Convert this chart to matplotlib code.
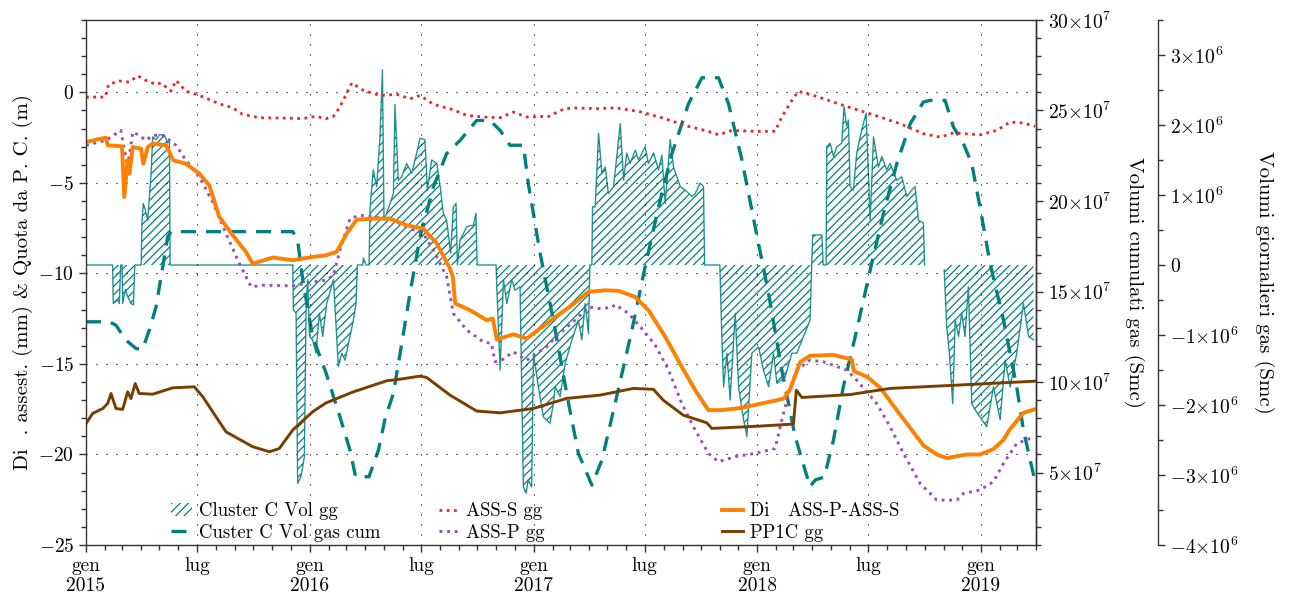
######### Subsidenza e volumi gas - Cluster C #########
import numpy as np
import pandas as pd
import matplotlib
matplotlib.use('Agg')
import matplotlib.pyplot as plt
import matplotlib.dates as mdates
from matplotlib.ticker import MultipleLocator, FuncFormatter

plt.rcParams['font.family'] = 'serif'
plt.rcParams['font.serif'] = ['cmr10', 'DejaVu Serif']
plt.rcParams['mathtext.fontset'] = 'cm'
plt.rcParams['axes.unicode_minus'] = False
plt.rcParams['hatch.linewidth'] = 0.9

# ---- data (time in decimal years) ----
# ASS-S gg (m)
ass_s_t = [2015.0, 2015.086, 2015.101, 2015.149, 2015.194, 2015.231, 2015.268, 2015.313, 2015.335,
           2015.38, 2015.402, 2015.447, 2015.507, 2015.596, 2015.656, 2015.70, 2015.775, 2015.894,
           2015.969, 2016.028, 2016.073, 2016.106, 2016.135, 2016.188, 2016.24, 2016.314, 2016.389,
           2016.448, 2016.493, 2016.553, 2016.642, 2016.702, 2016.776, 2016.851, 2016.91, 2016.97,
           2017.074, 2017.11, 2017.142, 2017.186, 2017.291, 2017.365, 2017.47, 2017.574, 2017.693,
           2017.768, 2017.827, 2017.887, 2017.991, 2018.08, 2018.11, 2018.155, 2018.184, 2018.266,
           2018.385, 2018.505, 2018.639, 2018.743, 2018.818, 2018.877, 2018.996, 2019.071, 2019.13,
           2019.19, 2019.242]
ass_s = [-0.26, -0.26, 0.44, 0.63, 0.57, 0.92, 0.66, 0.44, 0.52,
         0.07, 0.66, 0.07, -0.17, -0.63, -0.85, -1.21, -1.40, -1.42,
         -1.45, -1.32, -1.45, -1.32, -0.81, 0.52, 0.11, -0.17, -0.11,
         -0.35, -0.17, -0.66, -0.96, -1.27, -1.36, -1.40, -1.09, -1.36,
         -1.32, -1.05, -0.90, -0.86, -0.90, -0.85, -1.05, -1.40, -1.88,
         -2.10, -2.34, -2.10, -2.15, -2.15, -1.36, -0.44, 0.06, -0.22,
         -0.72, -1.18, -1.73, -2.28, -2.47, -2.24, -2.34, -2.10, -1.64,
         -1.69, -1.88]

# ASS-P gg (m)
ass_p_t = [2015.0, 2015.089, 2015.156, 2015.186, 2015.209, 2015.238, 2015.268, 2015.298, 2015.343,
           2015.402, 2015.447, 2015.507, 2015.566, 2015.626, 2015.686, 2015.738, 2015.79, 2015.924,
           2016.013, 2016.073, 2016.106, 2016.135, 2016.18, 2016.225, 2016.284, 2016.374, 2016.448,
           2016.508, 2016.553, 2016.612, 2016.642, 2016.702, 2016.776, 2016.813, 2016.828, 2016.858,
           2016.91, 2016.97, 2017.059, 2017.10, 2017.186, 2017.246, 2017.291, 2017.35, 2017.365,
           2017.425, 2017.484, 2017.544, 2017.604, 2017.663, 2017.723, 2017.782, 2017.827, 2017.902,
           2017.991, 2018.08, 2018.11, 2018.15, 2018.177, 2018.236, 2018.296, 2018.4, 2018.445,
           2018.534, 2018.594, 2018.654, 2018.728, 2018.803, 2018.892, 2018.922, 2018.996, 2019.056,
           2019.101, 2019.16, 2019.22]
ass_p = [-2.92, -2.65, -2.10, -4.12, -2.19, -2.37, -2.65, -2.37, -2.37,
         -2.92, -3.75, -4.67, -6.05, -7.80, -9.46, -10.74, -10.65, -10.69,
         -10.47, -10.38, -10.10, -8.72, -6.97, -6.79, -6.88, -7.06, -7.52,
         -7.80, -8.72, -10.19, -12.21, -13.13, -13.78, -13.87, -14.88, -14.79,
         -14.33, -14.79, -14.05, -13.50, -12.58, -11.85, -11.94, -11.88, -11.72,
         -12.21, -13.04, -13.96, -15.34, -17.18, -18.65, -19.94, -20.40, -20.12,
         -19.94, -19.67, -18.10, -16.20, -15.34, -14.79, -14.88, -15.34, -15.89,
         -17.18, -18.47, -19.94, -21.60, -22.52, -22.52, -22.15, -21.96, -21.50,
         -20.49, -19.39, -19.11]

# Diff ASS-P-ASS-S (mm)
diff_t = [2015.0, 2015.089, 2015.097, 2015.161, 2015.171, 2015.186, 2015.194, 2015.209, 2015.246,
          2015.256, 2015.276, 2015.298, 2015.358, 2015.39, 2015.447, 2015.507, 2015.551, 2015.596,
          2015.656, 2015.715, 2015.745, 2015.835, 2015.924, 2016.013, 2016.073, 2016.12, 2016.165,
          2016.21, 2016.284, 2016.359, 2016.433, 2016.508, 2016.568, 2016.627, 2016.64, 2016.65,
          2016.717, 2016.791, 2016.818, 2016.836, 2016.91, 2016.97, 2017.059, 2017.11, 2017.171,
          2017.246, 2017.32, 2017.38, 2017.455, 2017.514, 2017.589, 2017.663, 2017.723, 2017.782,
          2017.842, 2017.932, 2018.021, 2018.088, 2018.12, 2018.147, 2018.192, 2018.236, 2018.34,
          2018.423, 2018.432, 2018.49, 2018.549, 2018.639, 2018.743, 2018.803, 2018.847, 2018.937,
          2018.996, 2019.056, 2019.10, 2019.13, 2019.19, 2019.242]
diff = [-2.74, -2.50, -2.92, -2.98, -5.78, -3.75, -4.49, -3.02, -3.11,
        -3.94, -3.02, -2.83, -2.92, -3.75, -3.94, -4.49, -5.13, -6.88,
        -7.89, -8.81, -9.46, -9.12, -9.27, -9.09, -9.00, -8.81, -7.80,
        -7.03, -6.97, -6.97, -7.34, -7.52, -8.35, -9.73, -10.20, -11.66,
        -12.03, -12.58, -12.49, -13.65, -13.36, -13.59, -12.77, -12.30, -11.76,
        -11.02, -10.93, -10.96, -11.30, -12.03, -13.50, -15.16, -16.45, -17.55,
        -17.55, -17.42, -17.18, -17.00, -16.90, -16.40, -14.90, -14.55, -14.50,
        -14.75, -15.40, -15.70, -16.30, -17.80, -19.50, -20.00, -20.20, -20.00,
        -20.00, -19.70, -19.20, -18.60, -17.70, -17.50]

# PP1C gg (m)
pp1c_t = [2015.0, 2015.03, 2015.075, 2015.097, 2015.112, 2015.134, 2015.164, 2015.186, 2015.201,
          2015.22, 2015.238, 2015.298, 2015.387, 2015.484, 2015.522, 2015.626, 2015.745, 2015.82,
          2015.864, 2015.924, 2016.013, 2016.073, 2016.195, 2016.344, 2016.404, 2016.493, 2016.523,
          2016.627, 2016.746, 2016.851, 2016.999, 2017.149, 2017.298, 2017.447, 2017.536, 2017.58,
          2017.67, 2017.775, 2017.797, 2018.013, 2018.162, 2018.175, 2018.2, 2018.415, 2018.594,
          2018.892, 2019.242]
pp1c = [-18.29, -17.73, -17.46, -17.18, -16.63, -17.46, -17.51, -16.54, -16.91,
        -16.08, -16.63, -16.67, -16.32, -16.26, -16.81, -18.75, -19.57, -19.85,
        -19.67, -18.65, -17.64, -17.15, -16.54, -15.93, -15.84, -15.67, -15.75,
        -16.72, -17.60, -17.70, -17.46, -16.90, -16.72, -16.35, -16.40, -17.00,
        -17.83, -18.25, -18.56, -18.43, -18.32, -16.45, -16.85, -16.69, -16.35,
        -16.17, -15.95]

# Custer C Vol gas cum (x 1e7 Smc)
cum_t = [2015.0, 2015.104, 2015.134, 2015.179, 2015.224, 2015.253, 2015.283, 2015.313, 2015.343,
         2015.365, 2015.38, 2015.924, 2015.946, 2015.969, 2016.013, 2016.073, 2016.135, 2016.18,
         2016.205, 2016.265, 2016.307, 2016.337, 2016.374, 2016.404, 2016.448, 2016.493, 2016.553,
         2016.612, 2016.672, 2016.746, 2016.806, 2016.851, 2016.895, 2016.955, 2016.977, 2017.03,
         2017.089, 2017.157, 2017.201, 2017.261, 2017.306, 2017.365, 2017.44, 2017.499, 2017.559,
         2017.619, 2017.693, 2017.753, 2017.827, 2017.872, 2017.932, 2017.991, 2018.051, 2018.11,
         2018.17, 2018.236, 2018.26, 2018.3, 2018.341, 2018.385, 2018.445, 2018.505, 2018.564,
         2018.624, 2018.684, 2018.743, 2018.773, 2018.84, 2018.877, 2018.922, 2018.959, 2018.996,
         2019.041, 2019.101, 2019.16, 2019.19, 2019.242]
cum = [13.33, 13.33, 13.14, 12.31, 11.85, 11.82, 12.87, 14.15, 16.36,
       18.02, 18.31, 18.31, 17.83, 15.62, 12.50, 10.50, 8.08, 6.24,
       4.77, 4.77, 6.24, 7.99, 9.37, 11.58, 14.89, 18.02, 20.78,
       22.62, 23.35, 24.45, 24.45, 23.90, 23.08, 23.08, 20.96, 17.10,
       13.42, 8.82, 6.06, 4.31, 5.69, 8.82, 12.87, 16.36, 19.67,
       22.62, 25.37, 26.81, 26.81, 25.37, 22.25, 18.57, 14.89, 10.66,
       6.98, 4.22, 4.60, 4.75, 6.80, 9.74, 12.87, 16.18, 19.30,
       22.06, 24.27, 25.47, 25.56, 25.56, 24.09, 23.17, 22.06, 19.67,
       16.54, 13.42, 9.74, 7.35, 4.50]

# Cluster C Vol gg (x 1e6 Smc)
daily_t = [2015.0, 2015.119, 2015.122, 2015.142, 2015.149, 2015.155, 2015.161, 2015.164, 2015.176,
           2015.186, 2015.201, 2015.212, 2015.218, 2015.247, 2015.25, 2015.256, 2015.265, 2015.276,
           2015.291, 2015.298, 2015.313, 2015.328, 2015.35, 2015.365, 2015.373, 2015.376, 2015.924,
           2015.927, 2015.939, 2015.946, 2015.961, 2015.976, 2015.984, 2015.991, 2015.999, 2016.013,
           2016.028, 2016.043, 2016.058, 2016.076, 2016.106, 2016.128, 2016.143, 2016.158, 2016.18,
           2016.195, 2016.207, 2016.213, 2016.237, 2016.24, 2016.252, 2016.265, 2016.27, 2016.284,
           2016.299, 2016.314, 2016.325, 2016.332, 2016.344, 2016.359, 2016.374, 2016.381, 2016.396,
           2016.411, 2016.433, 2016.456, 2016.478, 2016.493, 2016.515, 2016.526, 2016.545, 2016.568,
           2016.583, 2016.597, 2016.612, 2016.63, 2016.642, 2016.654, 2016.66, 2016.672, 2016.687,
           2016.702, 2016.732, 2016.743, 2016.748, 2016.833, 2016.836, 2016.851, 2016.866, 2016.881,
           2016.903, 2016.918, 2016.94, 2016.955, 2016.967, 2016.977, 2016.992, 2017.0, 2017.022,
           2017.044, 2017.074, 2017.089, 2017.097, 2017.119, 2017.142, 2017.172, 2017.201, 2017.216,
           2017.231, 2017.246, 2017.252, 2017.261, 2017.264, 2017.276, 2017.291, 2017.306, 2017.321,
           2017.335, 2017.358, 2017.388, 2017.403, 2017.417, 2017.432, 2017.455, 2017.47, 2017.499,
           2017.514, 2017.537, 2017.559, 2017.574, 2017.589, 2017.611, 2017.626, 2017.656, 2017.678,
           2017.708, 2017.723, 2017.745, 2017.76, 2017.765, 2017.833, 2017.842, 2017.85, 2017.865,
           2017.879, 2017.902, 2017.917, 2017.939, 2017.954, 2017.976, 2018.006, 2018.028, 2018.051,
           2018.073, 2018.088, 2018.125, 2018.155, 2018.177, 2018.207, 2018.236, 2018.244, 2018.248,
           2018.289, 2018.295, 2018.308, 2018.311, 2018.326, 2018.341, 2018.356, 2018.378, 2018.388,
           2018.4, 2018.408, 2018.415, 2018.43, 2018.445, 2018.467, 2018.487, 2018.505, 2018.52,
           2018.542, 2018.557, 2018.579, 2018.594, 2018.624, 2018.646, 2018.669, 2018.691, 2018.706,
           2018.721, 2018.743, 2018.748, 2018.79, 2018.836, 2018.847, 2018.859, 2018.874, 2018.885,
           2018.9, 2018.914, 2018.929, 2018.944, 2018.959, 2018.974, 2019.004, 2019.026, 2019.056,
           2019.086, 2019.108, 2019.131, 2019.16, 2019.19, 2019.213, 2019.235]
daily = [0, 0, -0.55, -0.50, -0.55, 0, 0, -0.55, -0.35,
         -0.45, -0.55, -0.57, 0, 0, 0.60, 0.88, 0.79, 0.64,
         1.31, 1.83, 1.79, 1.86, 1.86, 1.74, 1.80, 0, 0,
         -0.64, -0.69, -3.12, -3.02, -2.74, -0.55, -0.21, -1.02, -1.07,
         -1.26, -0.69, -1.02, -0.55, -0.21, -1.45, -1.26, -1.36, -1.02,
         -0.79, -0.55, 0, 0, 0.10, 0, 0, 0.83, 1.36,
         1.12, 1.83, 2.79, 0.64, 0.74, 0.88, 1.02, 2.29, 1.21,
         1.26, 1.45, 1.31, 1.60, 1.81, 1.79, 1.07, 1.50, 1.45,
         1.12, 0.74, 0.64, 0.17, 0.83, 0.88, 0, 0.36, 0.45,
         0.55, 0.57, 0.74, 0, 0, -0.31, -1.50, -0.21, -0.55,
         -0.21, -0.36, -0.31, -3.17, -3.26, -3.07, -3.17, -1.26, -1.74,
         -2.17, -2.26, -1.98, -1.74, -1.88, -1.40, -1.07, -0.79, -1.07,
         -0.55, -0.98, 0, 0, 0.83, 0.83, 1.88, 1.31, 1.40,
         1.02, 1.12, 2.02, 1.21, 1.60, 1.45, 1.64, 1.50, 1.69,
         1.45, 1.60, 1.36, 1.57, 0.88, 1.79, 1.40, 1.12, 1.07,
         0.98, 1.02, 1.17, 1.12, 0, 0, -1.02, -1.74, -1.26,
         -1.93, -0.69, -1.74, -2.21, -2.45, -1.26, -1.17, -1.50, -1.74,
         -1.26, -1.69, -1.60, -1.26, -1.26, -1.02, -0.79, 0, 0.43,
         0.43, 0, 0, 1.69, 1.74, 1.55, 1.69, 1.74, 2.26,
         1.98, 2.07, 1.12, 1.07, 1.60, 1.93, 2.17, 0.64, 1.83,
         1.40, 1.55, 1.36, 1.45, 1.21, 1.26, 0.98, 1.07, 1.12,
         0.64, 0.60, 0, np.nan, -0.07, -0.88, -1.26, -1.98, -0.79,
         -1.02, -0.69, -1.02, -0.31, -1.98, -2.07, -2.21, -2.31, -1.74,
         -2.21, -1.36, -1.74, -1.26, -0.55, -1.02, -1.07]


def to_dates(t):
    t = np.asarray(t, dtype=float)
    return pd.Timestamp('2015-01-01') + pd.to_timedelta((t - 2015.0) * 365.25, unit='D')


teal = '#008080'
red = '#e8262a'
purple = '#9b50b2'
orange = '#ff8000'
brown = '#7a3d00'
spine_col = '#333333'

fig = plt.figure(figsize=(12.97, 5.98), dpi=100)
ax1 = fig.add_axes([0.0663, 0.0886, 0.7325, 0.878])
ax2 = ax1.twinx()
ax3 = ax1.twinx()

# hatched daily volumes at the bottom, cumulative in the middle, levels on top
ax3.set_zorder(1)
ax2.set_zorder(2)
ax1.set_zorder(3)
ax1.patch.set_visible(False)
ax2.patch.set_visible(False)

# daily volumes (third axis)
d_dates = to_dates(daily_t)
d_vals = np.array(daily) * 1e6
fill = ax3.fill_between(d_dates, 0, d_vals, facecolor='none', edgecolor=teal,
                        hatch='////', linewidth=0, label='Cluster C Vol gg')
ax3.plot(d_dates, d_vals, color=teal, lw=1.0, alpha=0.85)
ax3.set_ylim(-4e6, 3.5e6)

# cumulative volumes (second axis)
cum_line, = ax2.plot(to_dates(cum_t), np.array(cum) * 1e7, color=teal, lw=2.4,
                     dashes=(4.5, 3.0), label='Custer C Vol gas cum')
ax2.set_ylim(1e7, 30e7)

# levels (left axis)
l_s, = ax1.plot(to_dates(ass_s_t), ass_s, color=red, lw=2.0, linestyle=(0, (1, 1.6)), label='ASS-S gg')
l_p, = ax1.plot(to_dates(ass_p_t), ass_p, color=purple, lw=2.1, linestyle=(0, (1, 1.6)), label='ASS-P gg')
l_d, = ax1.plot(to_dates(diff_t), diff, color=orange, lw=2.8, label='Di   ASS-P-ASS-S')
l_b, = ax1.plot(to_dates(pp1c_t), pp1c, color=brown, lw=2.1, label='PP1C gg')
ax1.set_ylim(-25, 4)
ax1.set_xlim(pd.Timestamp('2015-01-01'), pd.Timestamp('2019-04-01'))

# x axis: gen/lug major, monthly minor
ax1.xaxis.set_major_locator(mdates.MonthLocator(bymonth=[1, 7]))
ax1.xaxis.set_minor_locator(mdates.MonthLocator())


def date_label(x, pos):
    d = mdates.num2date(x)
    if d.month == 1:
        return 'gen\n%d' % d.year
    return 'lug'


ax1.xaxis.set_major_formatter(FuncFormatter(date_label))

# y axes ticks
ax1.yaxis.set_major_locator(MultipleLocator(5))
ax1.yaxis.set_minor_locator(MultipleLocator(1))
ax1.yaxis.set_major_formatter(FuncFormatter(lambda v, p: '$%d$' % round(v)))

ax2.yaxis.set_major_locator(MultipleLocator(5e7))
ax2.yaxis.set_minor_locator(MultipleLocator(1e7))
ax2.yaxis.set_major_formatter(FuncFormatter(lambda v, p: r'$%d{\times}10^{7}$' % round(v / 1e7)))

ax3.yaxis.set_major_locator(MultipleLocator(1e6))
ax3.yaxis.set_minor_locator(MultipleLocator(5e5))
ax3.yaxis.set_major_formatter(FuncFormatter(
    lambda v, p: '$0$' if round(v) == 0 else r'$%d{\times}10^{6}$' % round(v / 1e6)))

for ax in (ax1, ax2, ax3):
    ax.tick_params(which='major', length=5, width=1.0, color=spine_col, labelsize=14)
    ax.tick_params(which='minor', length=3.5, width=1.0, color=spine_col)
    for s in ax.spines.values():
        s.set_color(spine_col)
        s.set_linewidth(1.0)

for s in ['left', 'top', 'bottom']:
    ax2.spines[s].set_visible(False)
    ax3.spines[s].set_visible(False)
ax3.spines['right'].set_position(('axes', 1.1284))

ax1.grid(True, which='major', color='k', linestyle=(0, (1, 8)), linewidth=0.8)

ax1.set_ylabel('Di  . assest. (mm) & Quota da P. C. (m)', fontsize=15, labelpad=4)
ax2.set_ylabel('Volumi cumulati gas (Smc)', fontsize=15, rotation=270, labelpad=24)
ax3.set_ylabel('Volumi giornalieri gas (Smc)', fontsize=15, rotation=270, labelpad=26)

# legend in three columns
leg_kw = dict(frameon=False, fontsize=13.5, borderpad=0, handlelength=1.1,
              handletextpad=0.35, labelspacing=0.2, loc='lower left')
leg1 = ax1.legend([fill, cum_line], ['Cluster C Vol gg', 'Custer C Vol gas cum'],
                  bbox_to_anchor=(0.08, -0.012), **leg_kw)
ax1.add_artist(leg1)
leg2 = ax1.legend([l_s, l_p], ['ASS-S gg', 'ASS-P gg'], bbox_to_anchor=(0.362, -0.012), **leg_kw)
ax1.add_artist(leg2)
ax1.legend([l_d, l_b], ['Di   ASS-P-ASS-S', 'PP1C gg'], bbox_to_anchor=(0.66, -0.012), **leg_kw)

plt.savefig('out.png', dpi=100)
